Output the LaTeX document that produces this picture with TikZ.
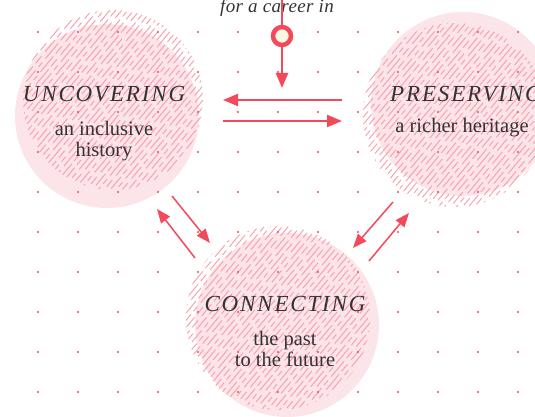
\documentclass[tikz,border=0pt]{standalone}
\usepackage{fontspec}
\setmainfont{Liberation Serif}
\usepackage{xcolor}
\usepackage{tikz}
\usetikzlibrary{arrows.meta}
\definecolor{vRed}{RGB}{242, 74, 90}
\definecolor{vPink}{RGB}{252,229,233}
\definecolor{vHatch}{RGB}{247,158,171}
\definecolor{vInk}{RGB}{ 51, 51, 51}
\definecolor{vCream}{RGB}{253,246,226}

% hatched disc: centre x, centre y, radius
\newcommand{\hatchdisc}[3]{%
  \begin{scope}
    \clip (#1,#2) circle (#3);
    \foreach \k [evaluate=\k as \ph using {mod(\k*17+200,47)}] in {-37,...,37}
      \draw[hatch, dash phase=\ph pt] ({#1+\k*6-100},{#2+120}) -- ++(200,-240);
  \end{scope}}

\begin{document}
\begin{tikzpicture}[
  x=1pt, y=-1pt,
  disc/.style={circle, fill=vPink, minimum size=184pt, inner sep=0pt},
  hatch/.style={vHatch, line width=0.9pt,
    dash pattern=on 15pt off 4pt on 6pt off 5pt on 20pt off 4pt on 9pt off 6pt},
  title/.style={anchor=base, text=vInk, inner sep=0pt,
    font=\fontsize{23}{24}\selectfont\itshape\addfontfeature{LetterSpace=8}},
  sub/.style={text=vInk, inner sep=0pt, align=center,
    font=\fontsize{20.5}{21}\selectfont},
  ring/.style={circle, draw=vRed, line width=4.5pt, fill=vCream,
    minimum size=18pt, inner sep=0pt},
  flow/.style={vRed, line width=2pt, -{Triangle[length=15pt, width=12pt]}},
  back/.style={vRed, line width=1.5pt, -{Triangle[length=14pt, width=11pt]}}
]
\useasboundingbox (0,0) rectangle (535,417);

\node[disc] (unc) at (107,116) {};
\node[disc] (pre) at (463,104) {};
\node[disc] (con) at (287,325) {};
\hatchdisc{113}{100}{90}
\hatchdisc{455}{115}{92}
\hatchdisc{278}{318}{92}

\foreach \i in {0,...,12}
  \foreach \j in {0,...,9}
    \fill[vRed] (38+40*\i, 32+40*\j) circle (1.1pt);

\node[title] (uncT) at (104,102) {UNCOVERING};
\node[sub] (uncS) at (104,141) {an inclusive\\history};
\node[title] (preT) at (466,102) {PRESERVING};
\node[sub] (preS) at (462,128) {a richer heritage};
\node[title] (conT) at (285,311) {CONNECTING};
\node[sub] (conS) at (285,349) {the past\\to the future};
\node[anchor=base, text=vInk, inner sep=0pt,
  font=\fontsize{19}{20}\selectfont\itshape\addfontfeature{LetterSpace=2}]
  (career) at (277,12.5) {for a career in};

\coordinate (top) at (282,0);
\node[ring] (mark) at (282,36) {};
\coordinate (markEnd) at (282,88);
\draw[vRed, line width=2.5pt] (top) -- (mark.north);
\draw[flow, line width=2.5pt] (mark.south) -- (markEnd);

\coordinate (h1a) at (342,100);
\coordinate (h1b) at (223,100);
\coordinate (h2a) at (223,121);
\coordinate (h2b) at (342,121);
\draw[flow] (h1a) -- (h1b);
\draw[flow] (h2a) -- (h2b);

\coordinate (d1a) at (172,196);
\coordinate (d1b) at (210,243);
\coordinate (d2a) at (195,258);
\coordinate (d2b) at (157,209);
\draw[back] (d1a) -- (d1b);
\draw[back] (d2a) -- (d2b);

\coordinate (d3a) at (393,202);
\coordinate (d3b) at (353,248);
\coordinate (d4a) at (369,261);
\coordinate (d4b) at (409,213);
\draw[back] (d3a) -- (d3b);
\draw[back] (d4a) -- (d4b);
\end{tikzpicture}
\end{document}
